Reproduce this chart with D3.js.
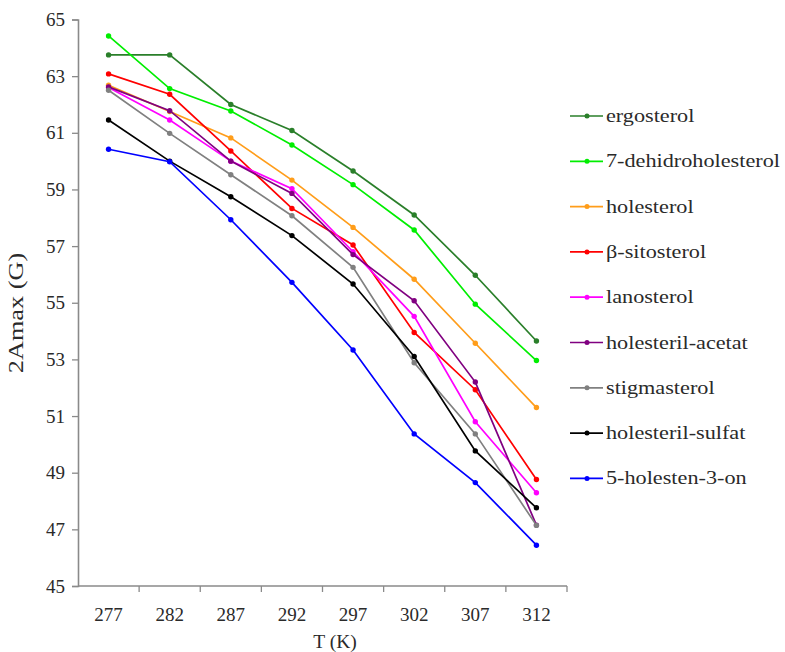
<!DOCTYPE html>
<html>
<head>
<meta charset="utf-8">
<script src="https://cdn.jsdelivr.net/npm/d3@7"></script>
<style>
  body { margin: 0; background: #fff; }
  svg text { font-family: "Liberation Serif", "DejaVu Serif", serif; fill: #2a2a2a; }
</style>
</head>
<body>
<div id="chart"></div>
<script>
const temps = [277, 282, 287, 292, 297, 302, 307, 312]
const yTicks = [45, 47, 49, 51, 53, 55, 57, 59, 61, 63, 65]

const names = ["ergosterol", "7-dehidroholesterol", "holesterol", "β-sitosterol", "lanosterol",
  "holesteril-acetat", "stigmasterol", "holesteril-sulfat", "5-holesten-3-on"]
const colors = ["#2a7f2a", "#00ee00", "#ff9d1a", "#ff0000", "#ff00ff", "#800080", "#808080", "#000000", "#0000ff"]

const ergosterol   = [63.75, 63.75, 62.0, 61.08, 59.65, 58.1, 55.97, 53.65]
const dehidro      = [64.42, 62.56, 61.77, 60.57, 59.17, 57.57, 54.95, 52.96]
const holesterol   = [62.68, 61.75, 60.82, 59.33, 57.66, 55.83, 53.57, 51.3]
const sitosterol   = [63.08, 62.36, 60.36, 58.33, 57.04, 53.95, 51.93, 48.76]
const lanosterol   = [62.6, 61.45, 60.0, 59.03, 56.8, 54.52, 50.8, 48.29]
const acetat       = [62.62, 61.78, 60.0, 58.86, 56.7, 55.07, 52.2, 47.15]
const stigmasterol = [62.5, 60.98, 59.52, 58.07, 56.25, 52.88, 50.37, 47.14]
const sulfat       = [61.45, 60.0, 58.74, 57.37, 55.66, 53.1, 49.77, 47.76]
const holesten     = [60.42, 59.98, 57.93, 55.72, 53.33, 50.37, 48.65, 46.44]

const seriesValues = [ergosterol, dehidro, holesterol, sitosterol, lanosterol, acetat, stigmasterol, sulfat, holesten]

const width = 785, height = 652
const margin = {left: 78, right: 218, top: 19.5, bottom: 66}
const fontFam = '"Liberation Serif", "DejaVu Serif", serif'

const svg = d3.select("#chart").append("svg")
  .attr("width", width)
  .attr("height", height)
  .style("font-family", fontFam)

const x = d3.scaleBand()
  .domain(temps)
  .range([margin.left, width - margin.right])

const y = d3.scaleLinear()
  .domain([45, 65])
  .range([height - margin.bottom, margin.top])

// y axis
const yAxis = svg.append("g")
  .attr("transform", `translate(${margin.left},0)`)
  .call(d3.axisLeft(y).tickValues(yTicks).tickSize(6).tickPadding(7))
yAxis.attr("font-family", fontFam)
yAxis.select(".domain").attr("stroke", "#8a8a8a").attr("stroke-width", 1.6)
yAxis.selectAll(".tick line").attr("stroke", "#8a8a8a").attr("stroke-width", 1.3)
yAxis.selectAll("text").style("font-size", "19px").attr("fill", "#2a2a2a")

// x axis - ticks sit between the categories
const xAxis = svg.append("g")
  .attr("transform", `translate(0,${height - margin.bottom})`)
xAxis.append("line")
  .attr("x1", margin.left).attr("x2", width - margin.right)
  .attr("stroke", "#8a8a8a").attr("stroke-width", 1.6)
xAxis.selectAll(".tk")
  .data(temps)
  .join("line")
  .attr("x1", d => x(d) + x.bandwidth())
  .attr("x2", d => x(d) + x.bandwidth())
  .attr("y1", 0).attr("y2", 6)
  .attr("stroke", "#8a8a8a").attr("stroke-width", 1.3)
xAxis.selectAll(".lbl")
  .data(temps)
  .join("text")
  .attr("x", d => x(d) + x.bandwidth() / 2)
  .attr("y", 35)
  .attr("text-anchor", "middle")
  .style("font-size", "19px")
  .text(d => d)

svg.append("text")
  .attr("x", 335)
  .attr("y", 648)
  .attr("text-anchor", "middle")
  .style("font-size", "19.5px")
  .text("T (K)")

svg.append("text")
  .attr("transform", `translate(23,313) rotate(-90) scale(1.25,1)`)
  .attr("text-anchor", "middle")
  .style("font-size", "21px")
  .text("2Amax (G)")

const line = d3.line()
  .x((d, i) => x(temps[i]) + x.bandwidth() / 2)
  .y(d => y(d))

const plot = svg.append("g")
seriesValues.forEach((vals, k) => {
  plot.append("path")
    .datum(vals)
    .attr("fill", "none")
    .attr("stroke", colors[k])
    .attr("stroke-width", 1.7)
    .attr("d", line)
  plot.selectAll(".pt" + k)
    .data(vals)
    .join("circle")
    .attr("cx", (d, i) => x(temps[i]) + x.bandwidth() / 2)
    .attr("cy", d => y(d))
    .attr("r", 2.7)
    .attr("fill", colors[k])
})

// legend
const legend = svg.append("g").attr("transform", "translate(570,116)")
const row = legend.selectAll("g")
  .data(names)
  .join("g")
  .attr("transform", (d, i) => `translate(0,${i * 45.3})`)
row.append("line")
  .attr("x1", 0).attr("x2", 33)
  .attr("stroke", (d, i) => colors[i])
  .attr("stroke-width", 1.7)
row.append("circle")
  .attr("cx", 17).attr("r", 2.5)
  .attr("fill", (d, i) => colors[i])
row.append("text")
  .attr("transform", "translate(36,0) scale(1.17,1)")
  .attr("dy", "0.32em")
  .style("font-size", "19px")
  .text(d => d)
</script>
</body>
</html>
